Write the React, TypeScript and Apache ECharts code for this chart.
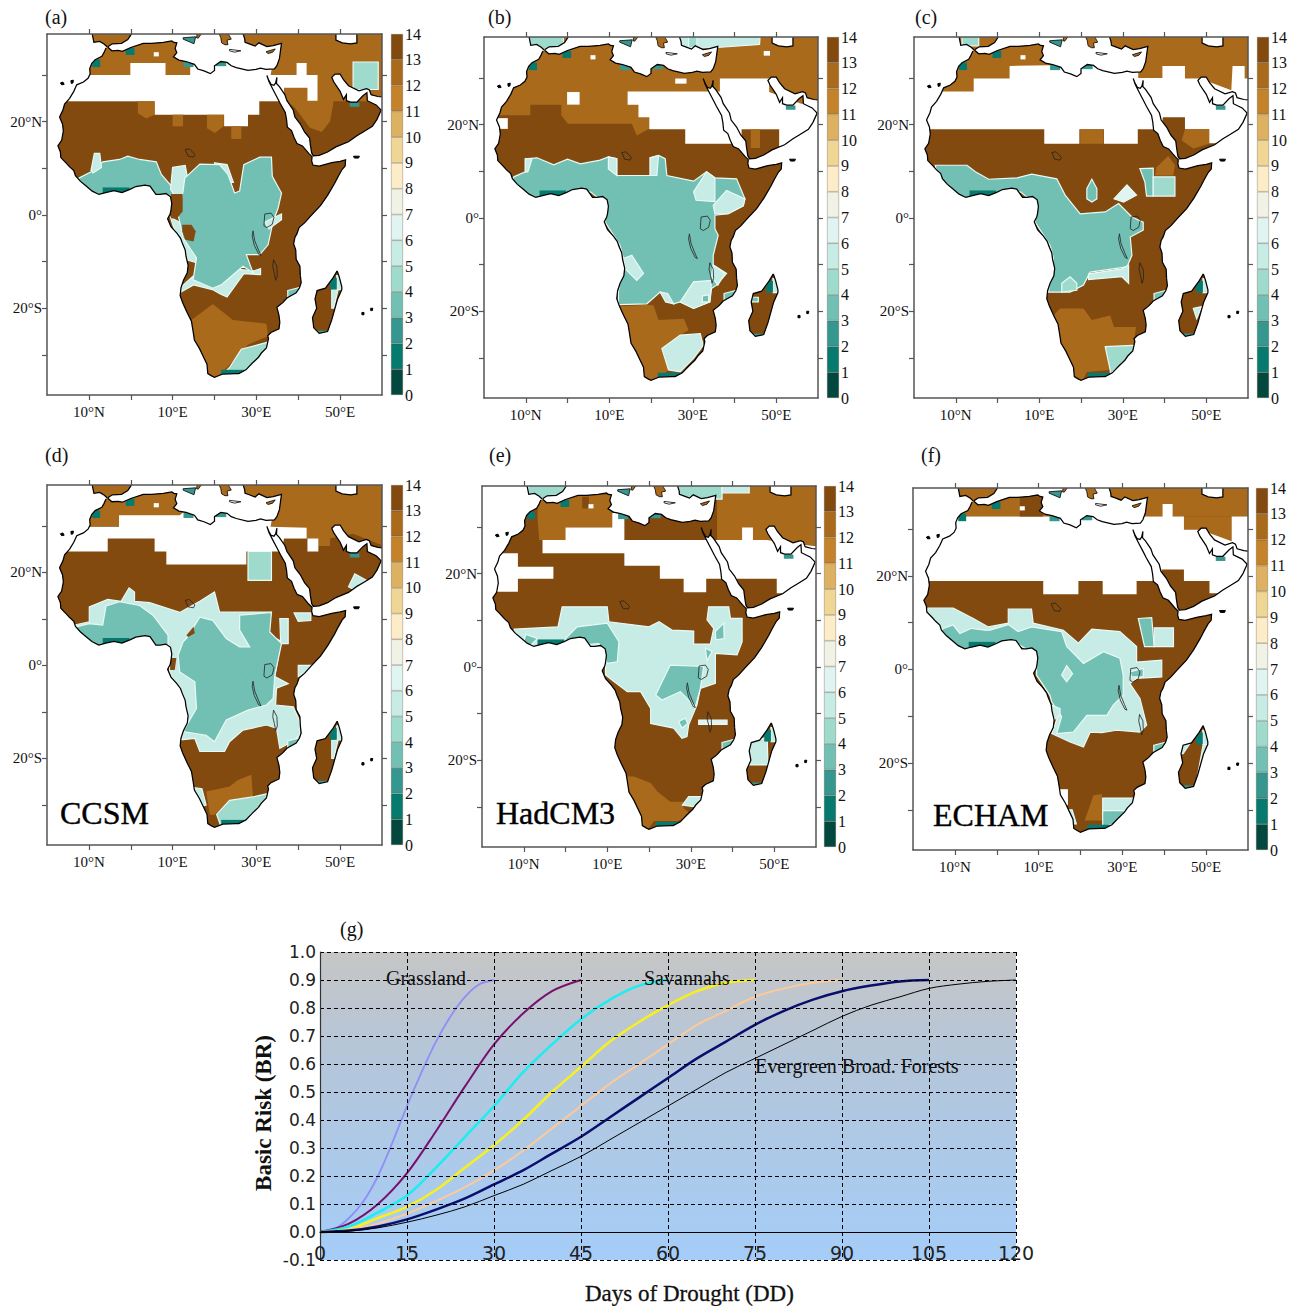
import React, { useEffect, useRef } from "react";
import * as echarts from "echarts";

const SERIF = '"Liberation Serif", serif';
const SANS = '"DejaVu Sans", sans-serif';

// colour of each colour-bar class, 0-1 up to 13-14
const levelColors = ["#02483f", "#077a70", "#35978f", "#72c0b3", "#9fdbcd", "#c7ebe5", "#e0f4f1", "#f1f2e6", "#fcecc8", "#efd694", "#dcb161", "#c4832b", "#aa6a1c", "#824a0f"];
const barTicks = [0, 1, 2, 3, 4, 5, 6, 7, 8, 9, 10, 11, 12, 13];

// coastlines in [lon, lat, lon, lat, ...]
const coastWest = [-5.9,35.8,-6.4,34.8,-6.9,34,-8.5,33.3,-9.3,32.5,-9.8,31.4,-9.7,30.2,-10.2,29.3,-11.3,28.5,-12.9,27.9,-13.6,26.5,-14.6,25,-15.8,23.8,-16.2,22.5,-17,21,-16.3,19.5,-16.1,18,-16.5,16,-17.4,14.8,-16.8,13.5,-16.7,12.3,-15.3,11,-14.6,10.3,-13.6,9.5,-13.2,8.4,-12,7.2,-10.8,6.3,-9.2,5.1,-7.6,4.4,-6,4.8,-4,5.2,-2.1,4.8,-0.2,5.5,1.2,6.1,3.4,6.4,4.6,6.2,6,4.4,7,4.4,8.4,4.6,9.5,3.9,9.8,2.5,9.6,1,9.4,0.2,8.8,-0.8,9.6,-2.5,11,-3.9,11.9,-5,12.3,-6,13,-7.5,13.2,-8.9,13.7,-10.8,13.5,-12.4,12.6,-14,12,-15.6,11.8,-17.3,12.4,-18.8,13.4,-20.8,14.5,-22.8,14.9,-25,15.2,-26.8,16.4,-28.6,17.4,-30.5,18.2,-32,18.4,-34,19.3,-34.5,20,-34.8,22,-34.1,25,-34,25.8,-34,27.5,-33.2,29,-31.8,30.5,-30.5,31.2,-29.6,32.4,-28.5,32.9,-26.5,32.7,-25.9,33.5,-25.2,35.4,-24.4,35.6,-23,35.4,-21.5,34.9,-19.8,36.3,-18.8,37.3,-17.8,39.5,-16.7,40.3,-15.6,40.7,-14.5,40.5,-13];
const coastEast = [40.5,-13,40.4,-11,39.5,-9.5,39.4,-7.5,38.9,-6.2,39.2,-4.8,39.7,-4,40.2,-2.7,41.5,-1.7,43,-0.2,45.3,2,47,4.2,48.7,6.8,49.5,8.2,50.5,9.8,51.2,10.5,51.3,11.8,50,11.5,48,11.2,45,10.5,43.5,10.7,43.2,11.6,43.3,12.5,42.5,13.2,41,14.8,39.7,15.3,39,16.6,38.4,18.1,37.4,18.8,37.2,20.5,36.9,22,35.7,23.9,34.9,25.3,33.9,27,33,28.6,32.5,29.9,33,28.8,33.5,28,34.2,27.8,34.6,28.3,34.9,29.5,34.8,28.2,35.5,27.5,36.8,25.8,37.3,24.5,38.8,22.5,39.2,21,40.5,19.5,41.5,17.8,42.7,16.5,42.9,15,43.2,13.3,43.6,12.7,45,12.8,47,13.5,49,14.6,52,15.7,54,17,55.5,17.8,57.7,19,58.8,20.5,59.8,22.5,58.6,23.6,56.5,24.5,56.4,26.2,55.5,25.6,54,24.2,52.5,24.2,51.5,24.5,51.5,25.8,50.8,24.8,50,26.5,48.5,28.5,48,29.5,48.8,30.2,50,30.2,50.8,29,52,27.7,54.5,26.6,56.3,27.1,57,26.8,57.4,25.8,59,25.4,60,25.3];
const coastIberia = [-9.2,39.5,-9.2,38.8,-8.8,37,-7.4,37.2,-6.3,36.6,-5.6,36];
const coastMadagascar = [49.3,-12,48.3,-13.5,46.5,-15.7,44.5,-16.2,44,-18,44.4,-20,43.4,-22,43.7,-24.2,45,-25.4,47,-25,48,-22.5,49.4,-18,50.4,-16,50.4,-15.4,49.8,-13.3,49.3,-12];
const coastMed = [-5.4,36.1,-4.4,36.7,-2.2,36.8,-0.7,37.6,0.1,38.7,0.5,39.6,27,39.6,26.8,38.9,27.2,37.8,27.3,37,28.3,36.7,29.7,36.2,30.6,36.9,32.5,36.1,34,36.3,36,36.8,35.8,35.5,35.5,33.5,34.9,32,34.3,31.3,32.3,31.2,31,31.5,29.9,31.2,28,31,25.2,31.6,24,32,23,32.7,21.5,32.9,20,32,20,31,19,30.3,17.5,30.9,16,31.3,15.2,32.3,13.2,32.9,11.5,33.2,10.2,33.9,11,34.8,10.6,35.7,11,36.9,10.3,37,9.8,37.3,7.8,37,5,36.8,3,36.8,0,35.9,-2,35.1,-3,35.3,-4.5,35.2,-5.4,35.9,-5.4,36.1];
const coastCaspian = [49,39.6,49,37.5,50.5,36.9,52.5,36.7,54,36.9,54,39.6,49,39.6];
const oceanEdge = [61,25.3,61,-40,-21,-40,-21,40,-9.2,40];

// fixed land-mask details
const islands: [number, number[]][] = [
  [2, [12.5,38,15.5,38.2,15.1,36.7,12.5,37.7]],
  [12, [20.8,39.5,21.5,38,21.7,36.9,22.5,36.5,23.2,36.5,23,37.5,24,37.7,23.5,38.5,23,39.5]],
  [12, [32.3,35,34.5,35.6,33.9,34.9,32.8,34.6]],
  [-1, [23.6,35.5,26.3,35.2,24.8,34.9,23.6,35.2]],
  [12, [16,39.5,15.7,38,16.1,37.9,17,39,18.3,39.9]],
];
const specks = [
  [-16.8,28.3,-16.2,28.5,-15.9,28,-16.5,27.9],
  [-14.3,28.8,-13.7,28.9,-13.8,28.3,-14.2,28.2],
  [53.2,12.6,54.6,12.6,54.4,12.2,53.4,12.2],
  [57.3,-20,57.8,-20,57.7,-20.5,57.3,-20.5],
  [55.2,-20.9,55.7,-20.9,55.7,-21.4,55.2,-21.4],
];
const lakes = [
  [13,14,14,14.2,15.3,13,15,12.4,13.7,12.6,13,14],
  [32,0.2,33.5,0.4,34.2,-0.5,33.8,-2,32.5,-2.7,31.8,-2.3,32,0.2],
  [29.2,-3.4,29.6,-5.5,30.5,-7.5,31.1,-8.7,30.6,-8.5,29.5,-6.5,29,-4.5,29.2,-3.4],
  [34.1,-9.6,34.9,-11,35,-13,34.6,-14,34.3,-12.5,33.9,-11,34.1,-9.6],
];

// coastal cells seen in every panel: [class, lon, lat, ...]
const commonCells = [
  [1,-9.2,33.3,-7.3,33.3,-7.3,31.7,-9.2,31.7],
  [1,-1.2,35.8,0.9,35.8,0.9,34.3,-1.2,34.3],
  [2,12.6,33,15,33,15,31.7,12.6,31.7],
  [2,20.3,33,22.8,33,22.8,31.9,20.3,31.9],
  [1,-6.7,5.9,-0.3,5.9,-0.3,4,-6.7,4],
  [1,21.6,-33.2,27,-33.2,27,-36,21.6,-36],
  [5,49.2,-13,51,-13,51,-16,49.2,-16],
  [1,47.6,-13.5,49.2,-13.5,49.2,-16,47.6,-16],
  [2,43,-24.8,48,-24.8,48,-27,43,-27],
  [3,37.5,-16.2,40.5,-15.5,40.5,-17,37.5,-17.8],
  [2,52.3,24.1,54.6,24.1,54.6,23.2,52.3,23.2],
  [-1,5.5,34.9,6.7,34.9,6.7,34,5.5,34],
];

const base = [13,-21,40,61,40,61,-40,-21,-40];

const regionsA = [
  base,
  [12,-21,24.4,61,24.4,61,40,-21,40],
  [12,36.8,24.7,39.2,23,42.8,18.7,45.6,17.8,47.6,20.1,48.4,24,48.4,26,36.8,26],
  [-1,-18.6,24.4,-18.6,30,-8.3,30,-0.1,30,-0.1,32.6,8.3,32.6,8.3,30,14.2,30,14.2,33,34,33,33.4,30,39.6,30,39.6,32.6,42,32.6,42,30,44.6,30,44.6,24.5,42.2,24.5,42.2,27.3,36.6,27.3,36.6,24.4,30.7,24.4,30.7,21.5,28,21.5,28,19,22.3,19,22.3,21.5,5.7,21.5,5.7,24.4],
  [12,1.7,24.4,5.7,24.4,5.7,21.5,3.7,20.7,1.7,21.8],
  [12,10,21.5,12.5,21.5,12.5,19,10,19],
  [12,18.2,21.5,22.2,21.5,22.2,19,20.1,17.6,18.2,18.6],
  [12,24,19,26.4,19,26.4,16.3,24,16.3],
  [4,53.1,32.8,59.1,32.8,59.1,26.9,53.1,26.9],
  [3,-12.4,7.9,-9.1,9.4,-6.7,11.4,-2.7,11.9,-0.7,12.6,2.1,11.9,6.1,11.4,7.3,8.7,9.7,6.2,10.1,4.4,9.3,2.2,-7.5,2.9,-13.8,6.5],
  [5,-9.5,9.5,-8.7,13.2,-7.4,13.2,-7,10.2,-9,9],
  [5,10,10.2,13,10.6,14,6,11.5,3,9.5,5.5],
  [5,20,11.2,23,10.8,24.5,7,21,7],
  [5,9.5,-0.5,11.5,-1.5,15.7,-8.5,15.5,-10.2,13,-9.5,10,-2],
  [5,12,-15.5,15,-13,21,-15,24,-11.5,29.5,-12,31,-11.5,31,-12.8,27,-12.6,23,-17.6,21.5,-17,19.5,-16,15,-15,12,-16.5],
  [3,12.9,7.9,16.5,10.9,21.2,10.8,23.2,8.7,24.8,4.7,26,5.1,27,10.8,30.8,12.4,33.6,12.4,33.8,8.3,36,4.7,35.2,1.5,34,-1.4,32.8,-6.4,30.8,-8.5,27.6,-8.5,29.2,-12.4,26.8,-11,21.6,-15,19.6,-15.7,14.9,-13.9,15.7,-9.2,12.5,-4.9,11.3,0.1,12.5,5.1],
  [13,9.6,4.5,12.4,4.5,12.4,0.8,11,-0.8,9.6,-0.7],
  [13,12.3,-2.1,14.5,-2.1,15.5,-3.5,15,-5.7,13,-5.3,12.3,-3.5],
  [5,32,-1.5,36,0.2,36,-1,33,-3],
  [12,12.5,-22.5,14.5,-22.5,19.6,-19.1,24.4,-22.5,32.4,-23.3,32.8,-26,28,-27.8,23.6,-32.1,21.2,-34.3,18.9,-36,12.5,-36],
  [4,23.6,-32.7,26.4,-28.8,33,-27.2,33,-31,29,-33,26,-35,21.6,-34.5],
  [5,48,-16,49.5,-16,48.5,-20,48,-20],
];

const regionsB = [
  base,
  [12,-21,22,-8.9,22,-8.9,24.3,-1.5,24.3,-1.5,22,0.1,20.2,15.4,20.2,16.6,17.7,19.4,19.1,61,19,61,40,-21,40],
  [-1,14.4,27.1,36.5,27.1,36.5,29.9,48.3,29.9,48.3,27,56,24.5,60.5,24.5,60.5,14.9,50.7,14.9,50.7,19,41.7,19,41.7,15.9,28.2,15.9,28.2,19,19.6,19,19.6,21.6,17,21.6,17,24.3,14.4,24.3],
  [12,43.9,19,46.1,19,46.1,15,43.9,15],
  [-1,-16.9,21.4,-14.3,21.4,-14.3,19.1,-16.9,19.1],
  [-1,-0.1,27,2.9,27,2.9,24.3,-0.1,24.3],
  [-1,25.8,29.9,28.5,29.9,28.5,28.8,25.8,28.8],
  [4,-10,40,-1,40,-1,36,-10,36],
  [5,27,40,46.2,40,46,37.2,35,36.5,27,36.5],
  [4,29,40,31,40,31,36.5,29,36.5],
  [-1,47,35.8,48.5,35.8,48.5,34.8,47,34.8],
  [3,-12.9,8.8,-10.1,9.9,-10.1,12.7,-7.3,12.9,-3.3,11.4,0,12.6,3.1,11.6,7.8,12.4,9.8,13.1,11.8,12.7,11.8,9.1,19.8,9.1,19.8,12.9,21.8,13.4,23.4,12.7,23.8,9.1,30.2,7.9,33.3,9.9,35.3,8.6,40.5,8.4,42.5,4.1,42.1,2.6,38.5,0.9,35.3,0.6,35.3,-2.3,36.1,-3.7,34.9,-8,34.9,-10.1,38.1,-11.9,35.7,-14.4,34.5,-15.1,34.1,-18,30.2,-19.4,27,-18,25.4,-18.4,22.2,-15.9,19,-18.4,12.2,-18.6,12.2,-15.9,13.4,-8.7,12.6,-5.9,9,-0.9,9.4,2.7,5.5,5.6,-8.9,4,-14,7],
  [5,-10.1,9.9,-10.1,12.7,-8.5,12.7,-9.5,9.9],
  [5,9.8,13.1,11.8,12.7,11.8,9.1,9.8,10.5],
  [5,19.8,12.9,21.8,13.4,21.4,9.1,19.8,9.1],
  [5,30.2,5.6,33.3,9.9,35.3,8.6,35.3,3.5,30.8,3.8],
  [5,34.9,2.7,38.1,5.9,42.5,4.1,42.1,2.6,38.5,0.9,35.3,0.9],
  [5,13.4,-8.7,15.4,-8,18.2,-11.9,16.6,-13.4,13.9,-11],
  [5,27,-18,30.2,-13.7,34.5,-13.4,34.1,-18,30.2,-19.4],
  [3,32.3,-16.7,33.8,-16.5,33.8,-18,32.3,-18],
  [5,34.9,-10.1,37.7,-11.9,36,-14.4,34.5,-12.5],
  [5,22.2,-15.9,24,-16.2,25.4,-18.4,23.5,-18],
  [12,10,-19.1,19,-18.6,20.6,-18.7,21.8,-21.9,27.9,-21.6,29,-24.1,27,-25.1,22.6,-28,24.2,-32.6,20,-36,10,-36],
  [5,22.6,-28,27,-25.1,31.8,-24.8,32.5,-27.3,30.2,-30.1,27,-33,24.2,-32.6],
  [3,44.1,-17,45.7,-17,45.7,-18,44.1,-18],
];

const regionsC = [
  base,
  [12,-21,24,61,24,61,40,-21,40],
  [-1,-18,27.1,-5.7,27.1,-5.7,29.9,2.9,29.9,2.9,32.6,33.7,33,33.7,30,39.5,30,39.5,32.6,44.9,32.6,44.9,29.9,48.5,29.9,56,27.4,56.3,32.6,59.2,32.6,59.2,29.9,60.5,29.9,60.5,16,50.7,16,50.7,19,44.9,19,44.9,21.6,39.6,21.6,39.3,19,33.6,19,33.6,15.9,25.5,15.9,25.5,19,19.6,19,19.6,15.9,11.2,15.9,11.2,19,-18,19],
  [4,-8.5,40,-4.5,40,-4.5,36.9,-8.5,36.9],
  [12,19.8,19,25.4,19,25.4,15.9,19.8,15.9],
  [12,44.9,19,50.7,19,50.7,15.9,46.9,14.9,44.1,16.6],
  [12,38.1,10.9,40.9,13.3,42.5,11.3,42.1,9.1,37.7,9.1],
  [3,-14.9,11.3,-7.3,11.3,-5.3,9.9,-2.1,8.3,4.7,8.6,8.2,9.4,14.2,8.4,16.2,4.9,19.8,0.9,25.8,1.3,29,3.1,32.2,0.2,34.9,-0.9,34.9,-2.6,31.8,-4.1,32.2,-8,31,-10.5,22.2,-11.6,20.6,-14.4,17.4,-15.9,12.2,-15.9,12.6,-13.7,13.4,-8.7,12.6,-5.9,9,-0.9,9.4,2.7,5.5,5.6,-8.9,4,-14,7],
  [5,21.8,-12,24.5,-11.6,29.8,-10.9,31.4,-10.1,31.4,-14,29.8,-12.6,21.8,-13.2],
  [4,15.4,-14,17.4,-12.6,19,-14,19,-15.5,15.4,-15.9],
  [3,21.4,6.3,22.6,8.3,23.8,6.3,23.8,4.1,22.6,3.4,21.4,4.1],
  [6,27.9,4.1,31,7.1,33.3,4.9,30.2,3.4],
  [3,34.1,10.6,37.3,10.7,37.3,8.8,37.3,4.7,35.7,4.7,35.3,7.7],
  [4,37.3,8.8,42.5,8.8,42.5,4.7,37.3,4.7],
  [12,11,-23.7,14.2,-20.1,15,-19.4,20.6,-19.4,22.6,-21.9,27,-20.9,27.9,-23.4,33.2,-23.4,32.5,-27.3,25.8,-27.6,27,-32.6,21.4,-33,19.8,-36,11,-36],
  [4,25.8,-27.6,32.5,-27.3,34,-28,30,-31,27,-33.5,27,-32.6],
  [5,46.9,-19.4,48.9,-19,47.7,-21.6],
];

const regionsD = [
  base,
  [12,-21,40,61,40,61,25.5,53.1,28.3,47.6,27.3,47.6,25.7,44.8,25.7,44.8,27.3,36,27.3,33,30,-21,30],
  [-1,-18.6,24.5,-18.6,29.8,-2.8,29.8,-2.8,32.3,11.7,32.3,14,34,34,33,33.4,29.8,42,29.6,42,27.3,36.6,27.3,36,24.5,27.6,24.5,27.6,21.7,8.5,21.7,8.5,24.5,5.7,24.5,5.7,27.3,-5.5,27.3,-5.5,24.5],
  [-1,42.2,27.3,44.8,27.3,44.8,24.5,42.2,24.5],
  [4,28,24.5,33.6,24.5,33.6,18.3,28,18.3],
  [5,52,16.9,53.5,19.7,56.3,18.3,53.5,16.2],
  [5,-13.4,8.7,-9.9,9.4,-9.9,12.6,-5.5,14.2,-2.3,13.8,-0.4,16.7,0.9,15.8,0.9,13.8,4.5,13.5,11.7,11.4,16.5,13.8,20,15.8,21.2,11.5,33.6,11.5,32.4,7.2,36,5.1,35.6,3.6,34.4,-2.4,37.6,-3.9,34.8,-4.9,34.6,-8.5,38.8,-8.9,40.4,-12.1,40.4,-15,38.4,-16.4,35.6,-17.8,34.8,-13.5,32.4,-12.8,26.8,-13.9,23.6,-16.4,22.4,-18.5,16.5,-18.5,15.3,-15.7,12.1,-16,13.3,-11.4,13.3,-9.2,9.3,-1.4,9.3,3.6,5.7,5.1,-9.9,4.9],
  [13,32.4,10.1,35.6,10.1,35.6,5.8,33,6,32.4,8],
  [5,35.6,10.1,37.6,10.1,37.6,4.7,35.8,4.7],
  [5,39,11.3,43,11.3,43,9.7,40,9.5],
  [5,40,0,44,0,40,-2.4],
  [3,-13,8.3,-9.9,9,-6.7,8.7,-5.9,12.8,-2.7,13.7,2.1,12.9,5.3,10.8,8.9,6.5,8.9,2,-8,2,-14,7],
  [3,13.3,5.8,16.5,10.4,19.6,9.7,22.8,5.8,26,4,28.4,4,26,7.6,26,10.8,33.6,11.4,33.2,7.2,36,4.7,34.4,-2.1,34,-7.1,32.4,-8.5,28,-9.6,22.8,-11.7,20,-16.4,18,-15,12.5,-14.2,15.7,-9.2,15.3,-3.5,11.7,-1.4,11.3,2.2,12.5,5.1],
  [13,13.3,6.5,15,8.3,15.3,6.9,13.7,6.1],
  [13,9.4,1.6,10.9,1.6,10.5,-1,9.4,-1],
  [12,18,-27.1,23.6,-26,25.6,-24.6,28.8,-23.5,29.2,-28.2,23.6,-28.9,20,-32.1,18.9,-32.1],
  [4,20.5,-32,23.6,-29,29.5,-28.2,33,-27.5,33,-30,29,-33,25.5,-35,21.5,-34.5],
  [5,13,-26,17,-26.5,18,-30,16,-30.5],
  [5,48,-16,49.5,-16,48.5,-20,48,-20],
];

const regionsE = [
  base,
  [12,36.3,40,61,40,61,25.8,48.2,27.2,36.3,27.2],
  [12,-6.7,36.9,11.2,36.9,11.2,29.9,0,29.9,0,27.2,-6.3,27.2,-6.7,31.9],
  [-1,-2.9,24.4,-5.5,24.4,-5.5,27.2,0,27.2,0,29.9,11.2,29.9,11.2,33,14.1,33,14.1,27.2,42.3,27.2,42.3,29.9,44.9,29.9,44.9,27.2,48.2,27.2,60.5,25.8,60.5,15.8,50.6,15.8,50.6,18.9,33.7,18.9,33.7,16,28.3,16,28.3,18.9,22.6,18.9,22.6,21.7,14.1,21.7,14.1,24.4],
  [-1,-17.1,24.4,-11.4,24.4,-11.4,21.5,-2.9,21.5,-2.9,18.9,-11.4,18.9,-11.4,16.1,-17.1,16.1],
  [4,26,40,37.5,40,37.5,36,26,36],
  [5,37.5,40,44,40,44,37.3,37.5,37.3],
  [4,-9,40,0,40,0,36,-9,36],
  [13,4,36.5,5.6,36.5,5.6,34,4,34],
  [5,-12.3,8.1,-1.8,8.6,-0.8,12.9,10,12.9,10.4,9.7,20,8.6,22.4,9.7,25.5,7.9,30.7,7.7,30.7,4.9,34.7,4.9,35.5,8.3,33.9,10.1,34.3,12.9,39.1,12.9,39.5,10.4,42.3,10.4,42.3,5.4,41.1,2.6,35.9,2.9,35.9,-3.5,32.3,-4.6,31.5,-8.1,29.5,-12.4,29.1,-14.9,27.9,-15.3,25.9,-13.1,20.4,-12.1,20.4,-8.9,18,-5.3,14.8,-5.3,11.6,-3.1,9.6,-1.7,9.6,1.1,8,4.7,-12.3,4],
  [3,0,6.1,2.8,8.6,10,9.4,12.8,5.4,12.4,1.1,10,0.8,8,5,0,4.5],
  [3,-9.5,7,-6.7,6.1,-8.5,4.5,-10,5.5],
  [3,21.6,-6,25.1,0.4,33.1,0.1,32.3,-4.6,31.1,-8.5,27.5,-5.3,23.1,-7.1],
  [3,27.1,-11.7,28.7,-11,29.3,-12.1,27.9,-13.1],
  [3,35.9,7.6,37.9,9.4,38,6.1,36,5.8],
  [3,33.5,4,35.1,3.3,33.9,1.3],
  [6,31.9,-11.4,38.7,-11.4,38.7,-12.3,31.9,-12.3],
  [12,16.4,-23.5,20.4,-24.9,22,-26.7,25.1,-28.9,28.3,-28.9,28.3,-30.3,30,-31.5,27,-33,21.2,-33,18.8,-36,11,-36,11,-23.5],
  [5,28,-29.6,29.5,-27.8,32.7,-27.8,31,-30],
  [5,43.5,-16.5,48.3,-15,48.5,-21,43.5,-21],
  [13,49,-14,50.5,-14,50,-20,48.7,-20],
];

const regionsF = [
  base,
  [12,-21,40,61,40,61,32.7,-21,32.7],
  [12,44,32.7,56.1,32.7,56.1,27,44,27],
  [-1,-18,32.7,35.4,32.7,39.6,32.7,39.6,35.4,42,35.4,42,32.7,44.7,32.7,44.7,29.9,48.6,29.9,56.1,27.4,56.1,32.7,60.5,32.7,60.5,16.3,50.8,16.3,50.8,18.9,44.7,18.9,44.7,21.4,39.4,21.4,39.4,18.9,33.4,18.9,33.4,16.1,25.3,16.1,25.3,18.9,19.5,18.9,19.5,16.1,11.1,16.1,11.1,18.9,-18,18.9],
  [13,5.5,37,11,37,11,32.7,5.5,32.7],
  [5,-16.4,13.1,-10.4,13.1,-5.6,10.9,-2,9.1,2.75,9.9,2.75,12.9,8.3,12.9,8.7,9.9,15.9,8.4,19.5,5.6,22.7,8.6,29.4,8.1,33.4,4.9,33.4,1.6,39.4,2,39.4,-1.6,33.4,-1.9,31.8,-3,34.2,-6.2,35.8,-11.9,34.2,-13.4,28.6,-13,25.1,-13.5,22.3,-13.4,20.7,-16.6,17.5,-15.5,13.1,-13.7,14.7,-9.8,12.7,-5.5,9.5,-1.2,9.5,3.1,5.5,5.2,-8.8,4.5,-18,10],
  [3,-12.8,8.8,-10.4,9.5,-8.8,7.7,-6,8.8,-2.8,8.4,-1.6,8.4,2.75,9.6,5.1,8.1,8.3,9.1,15.5,8.1,16.7,4.9,20.7,1.3,25.5,3.8,29.4,2.4,30.2,-1.2,30.2,-5.5,27.8,-7.6,26.3,-9.8,21.5,-9.8,18.3,-13.4,14.3,-13.7,15.5,-10.1,13.1,-6.9,12.7,-5.5,9.5,-1.2,9.5,3.1,5.5,5.2,-8.8,4,-14,7],
  [5,15.5,-1.2,16.7,0.8,18.1,-0.9,16.7,-2.6],
  [5,13.1,-7.6,15.1,-8.4,15.1,-9.8,13.5,-10.9],
  [3,31.8,-0.5,35,0.2,35,-1.6,32.2,-1.6],
  [3,33.8,10.9,37,11.1,37.6,4.9,35.3,4.9],
  [5,37.6,8.9,42.2,8.9,42.2,4.9,37.6,4.9],
  [12,21,-32.3,23.1,-26.9,25.1,-26.6,25.3,-32.3],
  [5,25.3,-27.5,33,-27.5,32,-30.5,26.5,-31,25.3,-31],
  [3,25.3,-30.2,32,-30.2,29,-33,25.3,-33.5],
  [-1,14.5,-25.6,17,-25.6,17,-29,14.5,-29],
  [5,16,-30,18,-30,19,-33,17,-33],
  [5,43,-16,46,-16,44.5,-18,43,-18],
  [5,49.3,-16,50.5,-16,48.2,-23,47.9,-23],
];

const panelRegions = [regionsA, regionsB, regionsC, regionsD, regionsE, regionsF];
const panelLetters = ["(a)", "(b)", "(c)", "(d)", "(e)", "(f)"];
const panelModels = ["", "", "", "CCSM", "HadCM3", "ECHAM"];

const lonLabels = [-10, 10, 30, 50];
const lonTicks = [-10, 0, 10, 20, 30, 40, 50];
const latLabels = [-20, 0, 20];
const latTicks = [-30, -20, -10, 0, 10, 20, 30];

// Basic-risk curves: values every five days (the first every 2.5 days)
const grasslandDays = [0, 2.5, 5, 7.5, 10, 12.5, 15, 17.5, 20, 22.5, 25, 27.5, 30];
const grassland = [0, 0.01, 0.05, 0.11, 0.2, 0.32, 0.45, 0.57, 0.68, 0.77, 0.84, 0.885, 0.9];
const br45 = [0, 0.03, 0.1, 0.21, 0.36, 0.52, 0.67, 0.78, 0.86, 0.9];
const br60 = [0, 0.02, 0.07, 0.13, 0.23, 0.34, 0.45, 0.57, 0.67, 0.76, 0.83, 0.88, 0.9];
const br75 = [0, 0.01, 0.05, 0.09, 0.15, 0.23, 0.31, 0.4, 0.5, 0.59, 0.68, 0.75, 0.81, 0.86, 0.89, 0.9];
const br90 = [0, 0.008, 0.03, 0.065, 0.11, 0.16, 0.22, 0.29, 0.37, 0.45, 0.53, 0.6, 0.67, 0.74, 0.79, 0.84, 0.87, 0.89, 0.9];
const br105 = [0, 0.005, 0.02, 0.045, 0.08, 0.12, 0.17, 0.22, 0.28, 0.34, 0.41, 0.48, 0.55, 0.62, 0.68, 0.74, 0.79, 0.83, 0.86, 0.88, 0.895, 0.9];
const br120 = [0, 0.003, 0.015, 0.035, 0.06, 0.09, 0.13, 0.17, 0.22, 0.27, 0.33, 0.39, 0.45, 0.51, 0.57, 0.62, 0.67, 0.72, 0.77, 0.81, 0.84, 0.87, 0.885, 0.895, 0.9];
const curveValues = [br45, br60, br75, br90, br105, br120];

// layout
const frames = [
  { l: 47, r: 382, t: 34, b: 395, cl: 391, ct: 34, cb: 395 },
  { l: 484, r: 818, t: 37, b: 398, cl: 827, ct: 37, cb: 398 },
  { l: 914, r: 1248, t: 37, b: 398, cl: 1257, ct: 37, cb: 398 },
  { l: 47, r: 382, t: 485, b: 845, cl: 391, ct: 485, cb: 845 },
  { l: 482, r: 816, t: 486, b: 847, cl: 824, ct: 486, cb: 847 },
  { l: 913, r: 1248, t: 488, b: 850, cl: 1256, ct: 488, cb: 850 },
];
const letterPos = [[45, 17], [488, 17], [915, 17], [45, 455], [489, 455], [921, 455]];
const modelPos = [[0, 0], [0, 0], [0, 0], [60, 813], [496, 813], [933, 815]];
const curveStyles = [
  { color: "#7a0f6e", width: 2 },
  { color: "#19eef0", width: 2.5 },
  { color: "#f8f01e", width: 2.5 },
  { color: "#fdc99a", width: 2 },
  { color: "#0a0f6e", width: 2.5 },
  { color: "#000000", width: 1 },
];

const pairs = (flat: number[]) => {
  const out: number[][] = [];
  for (let i = 0; i < flat.length; i += 2) out.push([flat[i], flat[i + 1]]);
  return out;
};
const fillOf = (level: number) => (level < 0 ? "#ffffff" : levelColors[level]);

type Layer = { pts: number[]; fill?: string; stroke?: string; width?: number };

// the ocean polygon runs down the west coast, crosses to Madagascar and back, then follows the east coast
const oceanRing = [...coastWest, ...coastMadagascar, ...coastEast, ...oceanEdge, ...coastIberia];

function buildLayers(regions: number[][]): Layer[] {
  const layers: Layer[] = [];
  regions.concat(commonCells).forEach((r) => {
    const level = r[0];
    const halo = level >= 3 && level <= 6;
    layers.push({ pts: r.slice(1), fill: fillOf(level), stroke: halo ? "#e8f9f6" : undefined, width: halo ? 1.2 : 0 });
  });
  layers.push({ pts: oceanRing, fill: "#ffffff" });
  layers.push({ pts: coastMed, fill: "#ffffff" });
  layers.push({ pts: coastCaspian, fill: "#ffffff" });
  islands.forEach(([level, pts]) => layers.push({ pts, fill: fillOf(level), stroke: "#000", width: 0.8 }));
  specks.forEach((pts) => layers.push({ pts, fill: "#000", stroke: "#000", width: 1 }));
  [coastWest, coastEast, coastIberia, coastMadagascar, coastMed, coastCaspian].forEach((pts) => layers.push({ pts, stroke: "#000", width: 1.25 }));
  lakes.forEach((pts) => layers.push({ pts, stroke: "#222", width: 0.8 }));
  return layers;
}

function buildOption() {
  const grid: any[] = [];
  const xAxis: any[] = [];
  const yAxis: any[] = [];
  const series: any[] = [];
  const graphic: any[] = [];
  const frameLine = { show: true, lineStyle: { color: "#555", width: 1.5 } };
  const tick = { show: true, length: 5, lineStyle: { color: "#555", width: 1.2 } };
  const lonTick = { ...tick, customValues: lonTicks };
  const latTick = { ...tick, customValues: latTicks };

  frames.forEach((f, p) => {
    grid.push({ left: f.l, top: f.t, width: f.r - f.l, height: f.b - f.t, show: false });
    const g = grid.length - 1;
    const xBottom = xAxis.length;
    xAxis.push({
      type: "value", gridIndex: g, min: -20, max: 60, position: "bottom", z: 10, splitLine: { show: false },
      axisLine: { ...frameLine, onZero: false }, axisTick: lonTick,
      axisLabel: { customValues: lonLabels, margin: 9, fontFamily: SERIF, fontSize: 15, color: "#111",
        formatter: (v: number) => (v < 0 ? `${-v}°N` : `${v}°E`) },
    });
    xAxis.push({
      type: "value", gridIndex: g, min: -20, max: 60, position: "top", z: 10, splitLine: { show: false },
      axisLine: { ...frameLine, onZero: false }, axisTick: lonTick, axisLabel: { show: false },
    });
    const yLeft = yAxis.length;
    yAxis.push({
      type: "value", gridIndex: g, min: -38.6, max: 38.8, position: "left", z: 10, splitLine: { show: false },
      axisLine: { ...frameLine, onZero: false }, axisTick: latTick,
      axisLabel: { customValues: latLabels, margin: 5, fontFamily: SERIF, fontSize: 15, color: "#111",
        formatter: (v: number) => (v > 0 ? `${v}°N` : v < 0 ? `${-v}°S` : "0°") },
    });
    yAxis.push({
      type: "value", gridIndex: g, min: -38.6, max: 38.8, position: "right", z: 10, splitLine: { show: false },
      axisLine: { ...frameLine, onZero: false }, axisTick: latTick, axisLabel: { show: false },
    });
    const layers = buildLayers(panelRegions[p]);
    series.push({
      type: "custom", xAxisIndex: xBottom, yAxisIndex: yLeft, clip: true, silent: true, z: 2,
      data: layers.map(() => [0, 0]),
      renderItem: (params: any, api: any) => {
        const layer = layers[params.dataIndex];
        const points = pairs(layer.pts).map((c) => api.coord(c));
        if (!layer.fill) {
          return { type: "polyline", shape: { points }, style: { fill: "none", stroke: layer.stroke, lineWidth: layer.width } };
        }
        return { type: "polygon", shape: { points }, style: { fill: layer.fill, stroke: layer.stroke || "none", lineWidth: layer.width || 0 } };
      },
    });

    // colour bar
    grid.push({ left: f.cl, top: f.ct, width: 12, height: f.cb - f.ct, show: false });
    const cg = grid.length - 1;
    const cx = xAxis.length;
    xAxis.push({ type: "category", gridIndex: cg, data: ["level"], show: false });
    const cy = yAxis.length;
    yAxis.push({
      type: "value", gridIndex: cg, min: 0, max: 14, interval: 1, position: "right",
      axisLine: { show: false }, axisTick: { show: false }, splitLine: { show: false },
      axisLabel: { margin: 2, fontFamily: SERIF, fontSize: 16, color: "#111" },
    });
    barTicks.forEach((lv) => {
      series.push({
        type: "bar", xAxisIndex: cx, yAxisIndex: cy, stack: `bar${p}`, barWidth: "100%", silent: true,
        data: [1], itemStyle: { color: levelColors[lv], borderColor: "rgba(60,50,30,0.45)", borderWidth: 0.6 },
      });
    });

    graphic.push({ type: "text", x: letterPos[p][0], y: letterPos[p][1], style: { text: panelLetters[p], font: `20px ${SERIF}`, fill: "#111", textVerticalAlign: "middle" } });
    if (panelModels[p]) {
      graphic.push({ type: "text", z: 20, x: modelPos[p][0], y: modelPos[p][1], style: { text: panelModels[p], font: `32px ${SERIF}`, fill: "#000", stroke: "#000", lineWidth: 0.4, textVerticalAlign: "middle" } });
    }
  });

  // panel (g)
  grid.push({
    left: 320, top: 952, width: 696, height: 308, show: true, borderWidth: 0,
    backgroundColor: { type: "linear", x: 0, y: 0, x2: 0, y2: 1, colorStops: [{ offset: 0, color: "#c6c6c6" }, { offset: 0.35, color: "#b4c6da" }, { offset: 1, color: "#a5cdf8" }] },
  });
  const lg = grid.length - 1;
  const lx = xAxis.length;
  const dashed = { show: true, lineStyle: { color: "#000", type: [4, 3], width: 1 } };
  xAxis.push({
    type: "value", gridIndex: lg, min: 0, max: 120, interval: 15, z: 5, splitLine: dashed,
    axisLine: { show: true, onZero: true, lineStyle: { color: "#000", width: 1.2 } }, axisTick: { show: false },
    axisLabel: { margin: -17, fontFamily: SANS, fontSize: 19, color: "#222" },
  });
  const ly = yAxis.length;
  yAxis.push({
    type: "value", gridIndex: lg, min: -0.1, max: 1, interval: 0.1, z: 5, splitLine: dashed,
    axisLine: { show: true, onZero: false, lineStyle: { color: "#333", width: 1.2 } }, axisTick: { show: false },
    axisLabel: { margin: 4, fontFamily: SANS, fontSize: 17, color: "#222", formatter: (v: number) => v.toFixed(1) },
  });
  series.push({
    type: "line", name: "Grassland", xAxisIndex: lx, yAxisIndex: ly, smooth: 0.33, showSymbol: false, silent: true, z: 3,
    data: grassland.map((v, i) => [grasslandDays[i], v]), lineStyle: { color: "#8f8ff5", width: 1.8 },
  });
  curveValues.forEach((vals, k) => {
    series.push({
      type: "line", xAxisIndex: lx, yAxisIndex: ly, smooth: 0.33, showSymbol: false, silent: true, z: 3,
      data: vals.map((v, i) => [i * 5, v]), lineStyle: curveStyles[k],
    });
  });
  const curveText: [string, number, number][] = [["Grassland", 386, 978], ["Savannahs", 644, 978], ["Evergreen Broad. Forests", 755, 1066]];
  curveText.forEach(([text, x, y]) => {
    graphic.push({ type: "text", z: 20, x, y, style: { text, font: `20px ${SERIF}`, fill: "#111", textVerticalAlign: "middle" } });
  });
  graphic.push({ type: "text", x: 340, y: 929, style: { text: "(g)", font: `20px ${SERIF}`, fill: "#111", textVerticalAlign: "middle" } });
  graphic.push({ type: "text", x: 585, y: 1293, style: { text: "Days of Drought (DD)", font: `23px ${SERIF}`, fill: "#111", stroke: "#111", lineWidth: 0.3, textVerticalAlign: "middle" } });
  graphic.push({ type: "text", x: 263, y: 1113, rotation: Math.PI / 2, style: { text: "Basic Risk (BR)", font: `bold 23px ${SERIF}`, fill: "#111", textAlign: "center", textVerticalAlign: "middle" } });

  return { animation: false, backgroundColor: "#ffffff", grid, xAxis, yAxis, series, graphic };
}

export default function App() {
  const ref = useRef<HTMLDivElement>(null);
  useEffect(() => {
    const chart = echarts.init(ref.current!, undefined, { renderer: "svg" });
    chart.setOption(buildOption() as any);
    return () => chart.dispose();
  }, []);
  return <div ref={ref} style={{ position: "absolute", left: 0, top: 0, width: 1294, height: 1306 }} />;
}
